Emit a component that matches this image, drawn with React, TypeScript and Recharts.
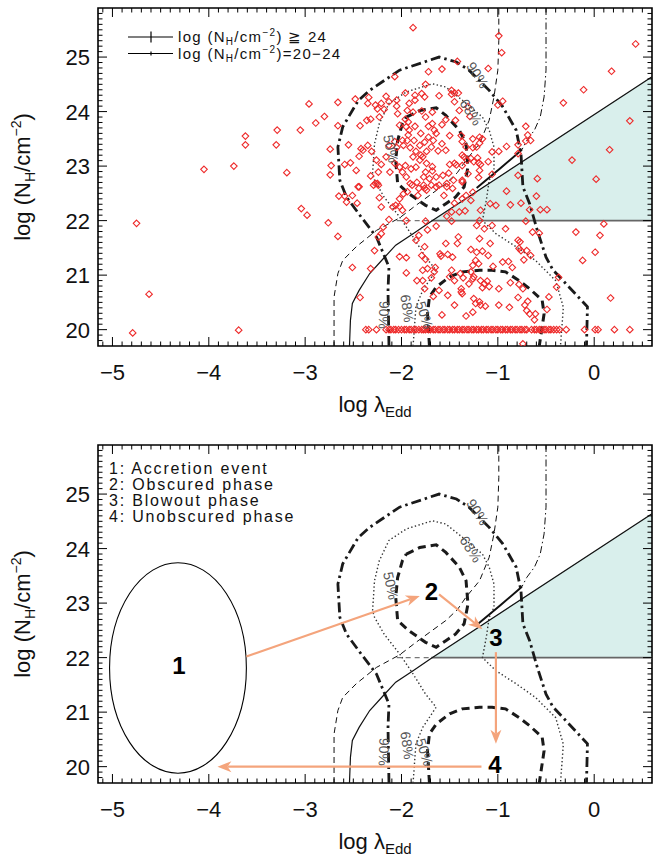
import React from "react";
import {
  ComposedChart,
  XAxis,
  YAxis,
  Scatter,
  Line,
  Area,
  ReferenceLine,
  ReferenceArea,
} from "recharts";

// axis ranges and labelled ticks
const xDomain = [-5.15, 0.6];
const yDomain = [19.7, 25.9];
const xMajor = [-5, -4, -3, -2, -1, 0];
const yMajor = [20, 21, 22, 23, 24, 25];

// individual sources (log lambda_Edd, log NH)
const sources: [number, number][] = [
  [-1.88, 25.54], [-0.99, 25.39], [-0.96, 25.08], [-1.1, 24.79], [-1.42, 24.92],
  [-1.58, 24.78], [-1.72, 24.73], [-2.07, 24.64], [-1.75, 24.5], [-1.48, 24.39],
  [-1.45, 24.34], [-1.41, 24.34], [-1.48, 24.32], [-1.96, 24.34], [-1.86, 24.3],
  [-1.79, 24.33], [-1.76, 24.27], [-1.86, 24.21], [-1.92, 24.15], [-2.05, 24.21],
  [-2.05, 24.1], [-2.16, 24.28], [-2.13, 24.18], [-2.21, 24.15], [-2.27, 24.12],
  [-2.25, 24.05], [-2.18, 24.04], [-2.35, 24.15], [-2.34, 24.26], [-2.48, 24.23],
  [-2.66, 24.17], [-2.96, 24.14], [-2.8, 23.91], [-2.89, 23.79], [-3.05, 23.66],
  [-2.66, 23.74], [-2.43, 23.74], [-2.36, 23.84], [-2.32, 23.86], [-2.23, 23.9],
  [-2.04, 23.96], [-1.94, 24.02], [-1.88, 23.99], [-1.79, 24.01], [-1.75, 23.9],
  [-1.68, 23.99], [-1.61, 24.29], [-1.45, 24.18], [-1.4, 24.02], [-1.31, 24.09],
  [-1.29, 23.91], [-1.44, 23.84], [-1.54, 23.85], [-1.58, 23.76], [-1.68, 23.78],
  [-1.72, 23.73], [-1.66, 23.66], [-1.64, 23.6], [-1.72, 23.53], [-1.8, 23.6],
  [-1.86, 23.73], [-1.93, 23.81], [-1.95, 23.72], [-2.02, 23.75], [-1.96, 23.86],
  [-1.92, 23.66], [-1.93, 23.57], [-1.99, 23.47], [-2.07, 23.45], [-2.13, 23.38],
  [-2.05, 23.34], [-1.98, 23.38], [-1.94, 23.47], [-1.87, 23.47], [-1.81, 23.38],
  [-1.76, 23.44], [-1.67, 23.47], [-1.69, 23.35], [-1.74, 23.27], [-1.8, 23.2],
  [-1.88, 23.17], [-1.91, 23.34], [-1.85, 23.27], [-1.78, 23.17], [-1.81, 23.11],
  [-1.74, 23.05], [-1.68, 22.99], [-1.68, 22.91], [-1.75, 22.89], [-1.77, 22.8],
  [-1.71, 22.77], [-1.64, 22.8], [-1.57, 22.83], [-1.51, 22.87], [-1.43, 23.02],
  [-1.5, 23.03], [-1.45, 23.05], [-1.62, 23.28], [-1.54, 23.29], [-1.58, 23.41],
  [-1.5, 23.56], [-1.38, 23.56], [-1.37, 23.45], [-1.33, 23.35], [-1.26, 23.5],
  [-1.19, 23.53], [-1.16, 23.5], [-1.19, 23.42], [-1.22, 23.35], [-1.26, 23.34],
  [-1.37, 23.2], [-1.35, 23.17], [-1.32, 23.11], [-1.28, 23.14], [-1.25, 23.08],
  [-1.21, 23.15], [-1.2, 23.06], [-1.18, 23.03], [-1.1, 23.08], [-1.06, 23.26],
  [-0.99, 23.27], [-0.91, 23.36], [-0.79, 23.39], [-0.71, 23.73], [-0.69, 23.57],
  [-0.66, 23.47], [-0.71, 23.46], [-0.79, 23.23], [-0.79, 22.83], [-0.59, 22.77],
  [-1.06, 22.85], [-1.19, 22.92], [-1.2, 22.79], [-1.31, 22.86], [-1.37, 22.74],
  [-1.37, 23.01], [-1.46, 22.74], [-1.53, 22.68], [-1.61, 22.65], [-1.69, 22.65],
  [-1.77, 22.65], [-1.84, 22.7], [-1.91, 22.68], [-1.95, 22.8], [-1.99, 22.89],
  [-2.02, 22.98], [-1.96, 23.01], [-1.9, 22.95], [-1.85, 22.98], [-2.12, 22.89],
  [-2.21, 23.03], [-2.26, 23.11], [-2.31, 23.27], [-2.35, 23.38], [-2.4, 23.29],
  [-2.44, 23.18], [-2.42, 23.32], [-2.55, 23.39], [-2.59, 23.03], [-2.53, 23.06],
  [-2.73, 23.01], [-2.74, 23.31], [-2.74, 22.84], [-2.47, 22.92], [-2.32, 22.82],
  [-2.24, 22.89], [-2.25, 22.68], [-2.29, 22.65], [-2.44, 22.62], [-2.07, 23.05],
  [-2.16, 23.17], [-1.0, 24.12], [-0.95, 24.19],
  [-3.04, 22.22], [-2.98, 22.1], [-2.76, 21.96], [-2.66, 21.71], [-2.65, 22.45],
  [-2.59, 22.45], [-2.57, 22.34], [-2.51, 22.46], [-2.46, 22.32], [-2.45, 22.62],
  [-2.27, 22.68], [-2.24, 22.65], [-2.23, 22.42], [-2.21, 22.25], [-2.19, 21.88],
  [-2.21, 21.76], [-2.24, 21.7], [-2.28, 21.45], [-2.32, 21.12], [-2.51, 21.14],
  [-2.43, 20.59], [-2.13, 22.02], [-2.09, 22.25], [-2.06, 22.28], [-2.02, 22.26],
  [-1.99, 22.19], [-2.02, 22.4], [-1.95, 22.0], [-1.98, 22.49], [-1.94, 22.53],
  [-1.89, 22.65], [-1.83, 22.46], [-1.82, 22.59], [-1.76, 22.59], [-1.74, 22.56],
  [-1.64, 22.62], [-1.56, 22.46], [-1.53, 22.62], [-1.47, 22.59], [-1.45, 22.32],
  [-1.37, 22.71], [-1.37, 22.4], [-1.33, 22.46], [-1.28, 22.37], [-1.26, 22.52],
  [-1.4, 22.16], [-1.34, 22.18], [-1.48, 22.16], [-1.53, 22.08], [-1.48, 21.99],
  [-1.64, 21.9], [-1.73, 21.83], [-1.75, 21.99], [-1.82, 21.73], [-1.85, 21.64],
  [-1.76, 21.52], [-1.79, 21.36], [-1.75, 21.29], [-1.73, 21.12], [-1.65, 21.14],
  [-1.66, 21.06], [-1.6, 21.39], [-1.59, 21.35], [-1.52, 21.38], [-1.47, 21.33],
  [-1.54, 21.58], [-1.41, 21.7], [-1.42, 21.58], [-1.28, 21.47], [-1.22, 21.42],
  [-1.16, 21.44], [-1.1, 21.36], [-1.08, 21.58], [-1.19, 21.67], [-1.22, 21.91],
  [-1.19, 22.0], [-1.18, 22.19], [-1.08, 22.31], [-1.02, 22.28], [-0.91, 22.54],
  [-0.87, 22.29], [-0.76, 22.32], [-0.6, 22.45], [-0.67, 22.2], [-0.56, 22.2],
  [-0.49, 22.2], [-0.71, 21.99], [-1.06, 21.91], [-1.14, 21.85], [-0.92, 21.85],
  [-0.79, 21.64], [-0.77, 21.61], [-0.78, 21.49], [-0.76, 21.45], [-0.7, 21.45],
  [-0.73, 21.28], [-0.66, 21.36], [-0.64, 21.79], [-0.57, 21.77], [-0.95, 21.24],
  [-0.89, 21.25], [-0.85, 21.14], [-1.05, 21.16], [-1.23, 21.27], [-1.2, 21.21],
  [-1.26, 21.18], [-1.28, 21.06], [-1.39, 21.03], [-1.48, 21.09], [-1.5, 20.97],
  [-1.45, 20.9], [-1.36, 20.95], [-1.26, 20.93], [-1.25, 20.97], [-1.18, 20.9],
  [-1.14, 20.84], [-1.09, 20.79], [-1.11, 20.89], [-1.16, 20.77], [-1.3, 20.84],
  [-1.38, 20.75], [-1.38, 20.69], [-1.37, 20.66], [-1.52, 20.63], [-1.61, 20.72],
  [-1.67, 20.61], [-1.69, 20.95], [-1.78, 20.9], [-1.84, 20.9], [-1.78, 21.09],
  [-1.95, 21.04], [-2.02, 21.34], [-1.95, 21.32], [-1.76, 20.75], [-1.58, 20.27],
  [-1.45, 20.45], [-1.33, 20.25], [-1.26, 20.32], [-1.25, 20.57], [-1.19, 20.51],
  [-1.18, 20.45], [-1.23, 20.48], [-1.13, 20.43], [-0.99, 20.75], [-0.87, 20.86],
  [-0.78, 20.83], [-0.74, 20.75], [-0.79, 20.59], [-0.69, 20.52], [-0.72, 20.45],
  [-0.7, 20.35], [-0.67, 20.29], [-0.61, 20.29], [-0.62, 20.18], [-0.49, 20.37],
  [-0.47, 20.6], [-0.39, 20.78], [-0.37, 20.96], [-0.88, 20.41], [-0.99, 20.45],
  [-0.74, 19.74],
  [-4.05, 22.94], [-3.74, 23.0], [-3.62, 23.55], [-3.62, 23.39], [-3.3, 23.39],
  [-3.29, 23.66], [-3.19, 22.88], [-0.32, 24.16], [-0.11, 24.4], [0.18, 24.74],
  [0.43, 25.24], [0.37, 23.83], [0.16, 23.3], [0.02, 22.76], [-0.23, 23.11],
  [0.1, 21.94], [0.06, 21.73], [-0.19, 21.79], [0.01, 21.42], [-0.12, 21.27],
  [0.17, 20.58], [-4.75, 21.95], [-4.62, 20.65], [-4.79, 19.94], [-3.69, 19.99],
];

// sources sitting at the log NH = 20 floor
const floorX = [
  -2.37, -2.34, -2.26, -2.16, -2.13, -2.11, -2.08, -2.06, -2.03, -2.0, -1.97, -1.95,
  -1.92, -1.9, -1.87, -1.85, -1.82, -1.79, -1.77, -1.75, -1.72, -1.7, -1.67, -1.65,
  -1.62, -1.6, -1.57, -1.55, -1.52, -1.5, -1.47, -1.45, -1.42, -1.4, -1.37, -1.35,
  -1.32, -1.3, -1.27, -1.25, -1.22, -1.2, -1.17, -1.15, -1.12, -1.1, -1.07, -1.05,
  -1.02, -1.0, -0.97, -0.95, -0.92, -0.9, -0.87, -0.85, -0.82, -0.8, -0.77, -0.75,
  -0.72, -0.7, -0.65, -0.62, -0.6, -0.57, -0.55, -0.52, -0.5, -0.47, -0.45, -0.42,
  -0.39, -0.36, -0.29, -0.1, 0.01, 0.04, 0.21, 0.37,
];
const floorNH = 20;

// density contours
const contour90: [number, number][] = [
  [-2.13, 19.7], [-2.14, 20.72], [-2.13, 21.15], [-2.26, 21.7], [-2.42, 22.07],
  [-2.57, 22.43], [-2.64, 22.74], [-2.66, 23.35], [-2.61, 23.72], [-2.45, 24.2],
  [-2.33, 24.39], [-2.02, 24.76], [-1.61, 25.0], [-1.43, 24.91], [-1.3, 24.76],
  [-1.09, 24.39], [-0.95, 24.09], [-0.81, 23.66], [-0.76, 23.23], [-0.74, 22.62],
  [-0.67, 22.31], [-0.59, 21.82], [-0.5, 21.33], [-0.43, 21.1], [-0.07, 20.42],
  [-0.08, 19.7],
];
const contour68: [number, number][] = [
  [-1.88, 19.7], [-1.85, 20.42], [-1.78, 20.72], [-1.64, 21.09], [-1.75, 21.33],
  [-1.88, 21.7], [-2.02, 22.07], [-2.18, 22.43], [-2.28, 22.74], [-2.3, 22.86],
  [-2.28, 23.41], [-2.23, 23.78], [-2.13, 24.15], [-1.95, 24.36], [-1.68, 24.51],
  [-1.54, 24.45], [-1.37, 24.21], [-1.16, 23.9], [-1.09, 23.66], [-1.04, 23.35],
  [-1.04, 22.92], [-1.09, 22.74], [-1.12, 22.37], [-1.16, 22.0], [-1.02, 21.76],
  [-0.81, 21.52], [-0.61, 21.27], [-0.4, 20.9], [-0.32, 20.41], [-0.35, 19.7],
];
const contour50Upper: [number, number][] = [
  [-1.95, 23.9], [-1.81, 24.02], [-1.64, 24.07], [-1.54, 23.93], [-1.4, 23.66],
  [-1.33, 23.41], [-1.31, 22.98], [-1.35, 22.62], [-1.44, 22.43], [-1.54, 22.31],
  [-1.64, 22.19], [-1.75, 22.28], [-1.92, 22.49], [-2.04, 22.68], [-2.06, 23.11],
  [-2.04, 23.47], [-1.99, 23.78], [-1.95, 23.9],
];
const contour50Lower: [number, number][] = [
  [-1.71, 19.7], [-1.73, 20.29], [-1.71, 20.6], [-1.64, 20.78], [-1.5, 20.97],
  [-1.37, 21.06], [-1.19, 21.09], [-1.06, 21.09], [-0.92, 21.06], [-0.78, 20.9],
  [-0.67, 20.75], [-0.54, 20.54], [-0.52, 20.29], [-0.57, 19.7],
];

// model curves
const dashedCurve: [number, number][] = [
  [-2.7, 19.7], [-2.7, 20.6], [-2.66, 21.03], [-2.61, 21.27], [-2.47, 21.52],
  [-2.26, 21.82], [-2.02, 22.05], [-1.85, 22.28], [-1.68, 22.5], [-1.54, 22.68],
  [-1.42, 22.88], [-1.33, 23.11], [-1.19, 23.41], [-1.09, 23.84], [-1.04, 24.27],
  [-1.0, 24.76], [-0.99, 25.3], [-0.99, 25.9],
];
const dashDotCurve: [number, number][] = [
  [-0.5, 25.9], [-0.5, 24.76], [-0.52, 24.27], [-0.56, 23.9], [-0.62, 23.66],
  [-0.7, 23.47], [-0.75, 23.3],
];
const dashDotMerge: [number, number][] = [[-0.75, 23.3], [-0.98, 22.95], [-1.22, 22.6]];
const solidCurve: [number, number][] = [
  [-2.54, 19.7], [-2.53, 20.17], [-2.51, 20.48], [-2.44, 20.72], [-2.33, 21.03],
  [-2.19, 21.3], [-2.06, 21.55], [-1.88, 21.76], [-1.69, 21.99], [0.6, 24.64],
];
const forbiddenEdge: [number, number][] = [[-1.69, 22], [0.6, 24.64]];
const nhLimit = 22;
const nhLimitDashStart = -2.05;

const contourLabels = [
  { label: "90%", x: -1.21, y: 24.67 },
  { label: "68%", x: -1.28, y: 23.99 },
  { label: "50%", x: -2.11, y: 23.32 },
  { label: "90%", x: -2.18, y: 20.27 },
  { label: "68%", x: -1.94, y: 20.39 },
  { label: "50%", x: -1.76, y: 20.27 },
];
const contourLabelAngles = [57, 57, 78, 92, 82, 72];

// evolution sketch (bottom panel)
const accretionEllipse = { x1: -5.03, x2: -3.61, y1: 19.88, y2: 23.74 };
const stageLabels = [
  { label: "1", x: -4.31, y: 21.85 },
  { label: "2", x: -1.69, y: 23.22 },
  { label: "3", x: -1.02, y: 22.37 },
  { label: "4", x: -1.03, y: 20.05 },
];
const evolutionArrows: [number, number, number, number][] = [
  [-3.61, 22.02, -1.81, 23.13],
  [-1.61, 23.16, -1.16, 22.52],
  [-1.02, 22.1, -1.02, 20.42],
  [-1.17, 20.0, -3.91, 20.0],
];
const phaseNames = ["1: Accretion event", "2: Obscured phase", "3: Blowout phase", "4: Unobscured phase"];

const FONT = "'Liberation Sans', Arial, sans-serif";
const CHART_W = 662;
const CHART_H = 420;
const PLOT_W = 554;
const PLOT_H = 338;
const RED = "#ee2a2a";
const SALMON = "#f4a47c";

const xTicks: number[] = [];
for (let i = -51; i <= 5; i++) xTicks.push(i / 10);
const yTicks: number[] = [];
for (let i = 198; i <= 258; i++) yTicks.push(i / 10);

const toXY = (pts: [number, number][]) => pts.map(([x, y]) => ({ x, y }));
const isMajor = (v: number) => Math.abs(v - Math.round(v)) < 1e-6;
const fmt = (v: number) => (v < 0 ? "\u2212" + Math.abs(v) : String(v));

const BottomTick = (props: any) => {
  const { x, y, payload } = props;
  const major = isMajor(payload.value);
  const len = major ? 9 : 4.5;
  return (
    <g>
      <line x1={x} x2={x} y1={y} y2={y - len} stroke="#000" strokeWidth={1} />
      <line x1={x} x2={x} y1={y - PLOT_H} y2={y - PLOT_H + len} stroke="#000" strokeWidth={1} />
      {major && (
        <text x={x} y={y + 34} textAnchor="middle" fontSize={22} fontFamily={FONT} fill="#111">
          {fmt(Math.round(payload.value))}
        </text>
      )}
    </g>
  );
};

const LeftTick = (props: any) => {
  const { x, y, payload } = props;
  const major = isMajor(payload.value);
  const len = major ? 9 : 4.5;
  return (
    <g>
      <line x1={x} x2={x + len} y1={y} y2={y} stroke="#000" strokeWidth={1} />
      <line x1={x + PLOT_W} x2={x + PLOT_W - len} y1={y} y2={y} stroke="#000" strokeWidth={1} />
      {major && (
        <text x={x - 8} y={y} dy="0.36em" textAnchor="end" fontSize={22} fontFamily={FONT} fill="#111">
          {Math.round(payload.value)}
        </text>
      )}
    </g>
  );
};

const XTitle = (props: any) => {
  const { x, y, width } = props.viewBox;
  return (
    <text x={x + width / 2} y={y + 66} textAnchor="middle" fontSize={22} fontFamily={FONT} fill="#111">
      log λ<tspan fontSize={15} dy={5}>Edd</tspan>
    </text>
  );
};

const YTitle = (props: any) => {
  const { y, height } = props.viewBox;
  const cx = 30;
  const cy = y + height / 2;
  return (
    <text
      x={cx}
      y={cy}
      transform={`rotate(-90 ${cx} ${cy})`}
      textAnchor="middle"
      fontSize={22}
      fontFamily={FONT}
      fill="#111"
    >
      log (N<tspan fontSize={14} dy={5}>H</tspan>
      <tspan dy={-5}>/cm</tspan>
      <tspan fontSize={14} dy={-9}>−2</tspan>
      <tspan dy={9}>)</tspan>
    </text>
  );
};

const Diamond = (props: any) => {
  const { cx, cy } = props;
  const r = 3.3;
  return (
    <path
      d={`M${cx},${cy - r}L${cx + r},${cy}L${cx},${cy + r}L${cx - r},${cy}Z`}
      fill="none"
      stroke={RED}
      strokeWidth={1.1}
    />
  );
};

const LabelMark = (props: any) => {
  const { cx, cy, payload } = props;
  return (
    <text
      x={cx}
      y={cy}
      dy="0.36em"
      textAnchor="middle"
      transform={`rotate(${payload.angle} ${cx} ${cy})`}
      fontSize={14}
      fontFamily={FONT}
      fill="#555"
    >
      {payload.label}
    </text>
  );
};

const StageMark = (props: any) => {
  const { cx, cy, payload } = props;
  return (
    <text x={cx} y={cy} dy="0.36em" textAnchor="middle" fontSize={24} fontWeight={700} fontFamily={FONT} fill="#000">
      {payload.label}
    </text>
  );
};

const ArrowShape = (props: any) => {
  const { x1, y1, x2, y2 } = props;
  const a = Math.atan2(y2 - y1, x2 - x1);
  const L = 14;
  const W = 5.5;
  const bx = x2 - L * Math.cos(a);
  const by = y2 - L * Math.sin(a);
  const nx = x2 - (L - 4) * Math.cos(a);
  const ny = y2 - (L - 4) * Math.sin(a);
  const px = -Math.sin(a) * W;
  const py = Math.cos(a) * W;
  return (
    <g>
      <line x1={x1} y1={y1} x2={nx} y2={ny} stroke={SALMON} strokeWidth={2.2} />
      <polygon
        points={`${x2},${y2} ${bx + px},${by + py} ${nx},${ny} ${bx - px},${by - py}`}
        fill={SALMON}
      />
    </g>
  );
};

const EllipseShape = (props: any) => {
  const { x, y, width, height } = props;
  return (
    <ellipse
      cx={x + width / 2}
      cy={y + height / 2}
      rx={Math.abs(width) / 2}
      ry={Math.abs(height) / 2}
      fill="none"
      stroke="#000"
      strokeWidth={1.1}
    />
  );
};

const lineStyles = {
  c90: { stroke: "#1a1a1a", strokeWidth: 2.8, strokeDasharray: "10 4 2.5 4" },
  c68: { stroke: "#333", strokeWidth: 1.4, strokeDasharray: "1.4 2.4" },
  c50: { stroke: "#1a1a1a", strokeWidth: 3, strokeDasharray: "8 5" },
};

const NhText = ({ x, y, tail }: { x: number; y: number; tail: string }) => (
  <text x={x} y={y}>
    log (N<tspan fontSize={10} dy={3}>H</tspan>
    <tspan dy={-3}>/cm</tspan>
    <tspan fontSize={10} dy={-6}>−2</tspan>
    <tspan dy={6}>{tail}</tspan>
  </text>
);

function Panel({ top, sketch }: { top: number; sketch: boolean }) {
  const labelData = contourLabels.map((d, i) => ({ ...d, angle: contourLabelAngles[i] }));
  const sourceData = [
    ...sources.map(([x, y]) => ({ x, y })),
    ...floorX.map((x) => ({ x, y: floorNH })),
  ];
  const curve = (pts: [number, number][], key: string, style: any) => (
    <Line
      key={key}
      data={toXY(pts)}
      dataKey="y"
      type="linear"
      dot={false}
      activeDot={false}
      fill="none"
      isAnimationActive={false}
      {...style}
    />
  );

  return (
    <div style={{ position: "absolute", left: 0, top }}>
      <ComposedChart width={CHART_W} height={CHART_H} margin={{ top: 8, right: 10, bottom: 0, left: 0 }}>
        <XAxis
          type="number"
          dataKey="x"
          domain={xDomain}
          allowDataOverflow
          ticks={xTicks}
          interval={0}
          tickSize={0}
          tickMargin={0}
          tickLine={false}
          axisLine={false}
          tick={<BottomTick />}
          height={74}
          label={<XTitle />}
        />
        <YAxis
          type="number"
          dataKey="y"
          domain={yDomain}
          allowDataOverflow
          ticks={yTicks}
          interval={0}
          tickSize={0}
          tickMargin={0}
          tickLine={false}
          axisLine={false}
          tick={<LeftTick />}
          width={98}
          label={<YTitle />}
        />
        <Area
          data={toXY(forbiddenEdge)}
          dataKey="y"
          baseValue={nhLimit}
          type="linear"
          fill="#d9efec"
          fillOpacity={1}
          stroke="none"
          isAnimationActive={false}
        />
        <ReferenceLine
          segment={[{ x: forbiddenEdge[0][0], y: nhLimit }, { x: xDomain[1], y: nhLimit }]}
          stroke="#666"
          strokeWidth={1.6}
        />
        <ReferenceLine
          segment={[{ x: nhLimitDashStart, y: nhLimit }, { x: forbiddenEdge[0][0], y: nhLimit }]}
          stroke="#777"
          strokeWidth={1.3}
          strokeDasharray="5 4"
        />
        {!sketch && (
          <Scatter data={sourceData} shape={<Diamond />} isAnimationActive={false} />
        )}
        {curve(contour90, "c90", lineStyles.c90)}
        {curve(contour68, "c68", lineStyles.c68)}
        {curve(contour50Upper, "c50u", lineStyles.c50)}
        {curve(contour50Lower, "c50l", lineStyles.c50)}
        {curve(dashedCurve, "dash", { stroke: "#111", strokeWidth: 1, strokeDasharray: "6 4" })}
        {curve(dashDotCurve, "dd", { stroke: "#111", strokeWidth: 1, strokeDasharray: "7 3 1.5 3" })}
        {curve(dashDotMerge, "ddm", { stroke: "#111", strokeWidth: 2 })}
        {curve(solidCurve, "solid", { stroke: "#111", strokeWidth: 1.2 })}
        <Scatter data={labelData} shape={<LabelMark />} isAnimationActive={false} />
        {sketch && (
          <ReferenceArea
            x1={accretionEllipse.x1}
            x2={accretionEllipse.x2}
            y1={accretionEllipse.y1}
            y2={accretionEllipse.y2}
            shape={<EllipseShape />}
          />
        )}
        {sketch &&
          evolutionArrows.map(([ax, ay, bx, by], i) => (
            <ReferenceLine
              key={"arr" + i}
              segment={[{ x: ax, y: ay }, { x: bx, y: by }]}
              shape={<ArrowShape />}
            />
          ))}
        {sketch && <Scatter data={stageLabels} shape={<StageMark />} isAnimationActive={false} />}
        <ReferenceArea
          x1={xDomain[0]}
          x2={xDomain[1]}
          y1={yDomain[0]}
          y2={yDomain[1]}
          fill="none"
          fillOpacity={0}
          stroke="#000"
          strokeWidth={1.6}
          ifOverflow="visible"
        />
      </ComposedChart>
      <svg
        width={CHART_W}
        height={CHART_H}
        style={{ position: "absolute", left: 0, top: 0, pointerEvents: "none" }}
      >
        {!sketch && (
          <g fontFamily={FONT} fontSize={15} fill="#111" letterSpacing={1.3}>
            <line x1={128} x2={173} y1={37} y2={37} stroke="#000" strokeWidth={1.2} />
            <line x1={151} x2={151} y1={31.5} y2={42.5} stroke="#000" strokeWidth={1.2} />
            <NhText x={178} y={42} tail=") ≧ 24" />
            <line x1={128} x2={173} y1={53.5} y2={53.5} stroke="#000" strokeWidth={1.2} />
            <line x1={151} x2={151} y1={51.5} y2={55.5} stroke="#000" strokeWidth={1.2} />
            <NhText x={178} y={58.5} tail=")=20−24" />
          </g>
        )}
        {sketch && (
          <g fontFamily={FONT} fontSize={16} fill="#111" letterSpacing={1.8}>
            {phaseNames.map((t, i) => (
              <text key={t} x={109} y={36.5 + i * 16.1}>
                {t}
              </text>
            ))}
          </g>
        )}
      </svg>
    </div>
  );
}

export default function App() {
  return (
    <div
      style={{
        position: "absolute",
        left: 0,
        top: 0,
        width: 662,
        height: 859,
        overflow: "hidden",
        background: "#fff",
      }}
    >
      <Panel top={0} sketch={false} />
      <Panel top={437} sketch={true} />
    </div>
  );
}
